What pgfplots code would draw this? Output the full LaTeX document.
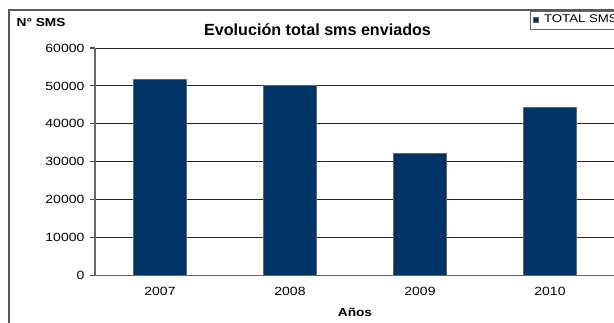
\documentclass[border=0pt]{standalone}
\usepackage{pgfplots}
\pgfplotsset{compat=1.18}
\usepackage{fontspec}
\setmainfont[FakeStretch=1.18]{Liberation Sans}
\newfontfamily\titlefont{Liberation Sans}
\definecolor{barblue}{HTML}{003366}
\begin{document}
\begin{tikzpicture}
\useasboundingbox (0,0) rectangle (460.5pt,-241.5pt);
\begin{scope}[x=0.75pt,y=-0.75pt]
\draw[black!65, line width=1pt] (9,340) -- (9,10) -- (640,10);
\end{scope}
\begin{axis}[
  at={(71.25pt,-206.625pt)}, anchor=south west,
  scale only axis, width=390pt, height=170.625pt,
  xmin=-0.5, xmax=3.5, ymin=0, ymax=60000,
  ytick={0,10000,20000,30000,40000,50000,60000},
  scaled y ticks=false,
  /pgf/number format/fixed,
  /pgf/number format/1000 sep={},
  /pgf/number format/assume math mode=true,
  xtick={0,1,2,3}, xticklabels={2007,2008,2009,2010},
  minor xtick={-0.5,0.5,1.5,2.5,3.5},
  xtick style={draw=none},
  minor x tick style={black!70, line width=0.8pt},
  ytick style={black!70, line width=0.8pt},
  major tick length=3.75pt, minor tick length=3.75pt,
  tick align=outside,
  axis x line*=bottom, axis y line*=left,
  axis line style={black!60, line width=0.8pt, -},
  ymajorgrids, major grid style={black!85, line width=0.7pt},
  tick label style={font=\fontsize{8.9}{10}\selectfont},
  yticklabel style={inner sep=0pt, xshift=-4pt},
  xticklabel style={inner sep=0pt, yshift=-4.5pt},
  title={Evolución total sms enviados},
  title style={at={(axis description cs:0.428,1.057)}, anchor=base, yshift=-6pt, inner sep=0pt, font=\titlefont\bfseries\fontsize{12.1}{14}\selectfont},
  xlabel={Años},
  xlabel style={at={(axis description cs:0.5,-0.163)}, anchor=center, font=\bfseries\fontsize{8.7}{10}\selectfont},
  ylabel={N° SMS},
  ylabel style={at={(axis description cs:-0.1596,1.113)}, anchor=west, rotate=-90, font=\bfseries\fontsize{8.7}{10}\selectfont},
  legend style={at={(axis description cs:0.8365,1.167)}, anchor=north west, draw=black!60, font=\fontsize{8.4}{9}\selectfont, inner xsep=2pt, inner ysep=1pt, legend cell align=left, nodes={inner xsep=4pt}, yshift=-0.5pt},
  legend image code/.code={\draw[fill=barblue, draw=black!60] (0pt,-2pt) rectangle (4pt,2pt);},
]
\addplot[ybar, bar width=39.75pt, fill=barblue, draw=black!60] coordinates {(0,51800) (1,50200) (2,32300) (3,44400)};
\legend{TOTAL SMS}
\end{axis}
\end{tikzpicture}
\end{document}
